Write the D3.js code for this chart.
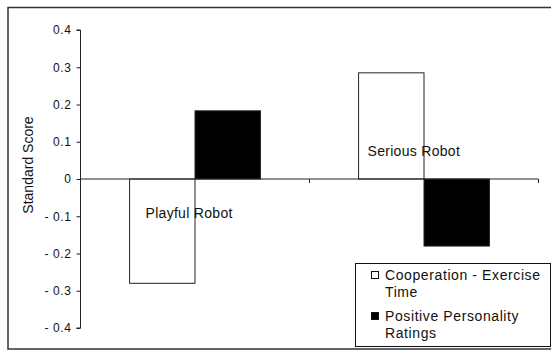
<!DOCTYPE html>
<html>
<head>
<meta charset="utf-8">
<script src="https://cdn.jsdelivr.net/npm/d3@7"></script>
<style>
  html, body { margin: 0; padding: 0; background: #fff; }
  svg { display: block; font-family: "Liberation Sans", Arial, sans-serif; }
</style>
</head>
<body>
<svg id="chart" width="551" height="351"></svg>
<script>
// Standard scores per robot personality condition
const categories = ["Playful Robot", "Serious Robot"];
const seriesNames = ["Cooperation - Exercise Time", "Positive Personality Ratings"];
const cooperationExerciseTime = [-0.28, 0.285];
const positivePersonalityRatings = [0.183, -0.18];
const yTicks = [0.4, 0.3, 0.2, 0.1, 0, -0.1, -0.2, -0.3, -0.4];
const legendLines = [["Cooperation - Exercise", "Time"], ["Positive Personality", "Ratings"]];

const seriesValues = [cooperationExerciseTime, positivePersonalityRatings];
const seriesFill = ["#ffffff", "#000000"];

const svg = d3.select("#chart");

// outer chart frame (right side runs off the canvas)
svg.append("rect")
  .attr("x", 8).attr("y", 7.5)
  .attr("width", 560).attr("height", 341.5)
  .attr("fill", "none").attr("stroke", "#333").attr("stroke-width", 1.5);

const plot = { left: 80.5, right: 538.5, top: 30, bottom: 328 };

const y = d3.scaleLinear().domain([-0.4, 0.4]).range([plot.bottom, plot.top]);
const x0 = d3.scaleBand().domain(categories)
  .range([plot.left, plot.right]).paddingInner(0.4286).paddingOuter(0.2143);
const x1 = d3.scaleBand().domain(d3.range(seriesNames.length))
  .range([0, x0.bandwidth()]);

// bars
const groups = svg.append("g").selectAll("g")
  .data(categories).join("g")
  .attr("transform", d => `translate(${x0(d)},0)`);

groups.selectAll("rect")
  .data((d, i) => seriesValues.map((vals, s) => ({ s, v: vals[i] })))
  .join("rect")
  .attr("x", d => x1(d.s))
  .attr("width", x1.bandwidth())
  .attr("y", d => y(Math.max(0, d.v)))
  .attr("height", d => Math.abs(y(d.v) - y(0)))
  .attr("fill", d => seriesFill[d.s])
  .attr("stroke", "#222").attr("stroke-width", 1);

// y axis
const fmt = v => v < 0 ? "- " + d3.format(".1f")(-v) : (v === 0 ? "0" : d3.format(".1f")(v));
const yAxis = svg.append("g")
  .attr("transform", `translate(${plot.left},0)`)
  .call(d3.axisLeft(y).tickValues(yTicks).tickFormat(fmt).tickSize(4).tickPadding(5));
yAxis.select(".domain").attr("stroke", "#222").attr("d", `M-4,${y(0.4)}H0V${y(-0.4)}H-4`);
yAxis.selectAll(".tick line").attr("stroke", "#222");
yAxis.selectAll(".tick text")
  .attr("font-size", 12).attr("letter-spacing", 0.6)
  .attr("font-family", "Liberation Sans, Arial, sans-serif").attr("fill", "#111");

// x axis along zero, with ticks at band boundaries
const xAxisG = svg.append("g").attr("transform", `translate(0,${y(0)})`);
xAxisG.append("line")
  .attr("x1", plot.left).attr("x2", plot.right)
  .attr("stroke", "#222").attr("stroke-width", 1);
xAxisG.selectAll(".xt")
  .data(categories).join("line")
  .attr("class", "xt")
  .attr("x1", d => x0(d) - x0.step() * x0.paddingOuter() + x0.step())
  .attr("x2", d => x0(d) - x0.step() * x0.paddingOuter() + x0.step())
  .attr("y1", 0).attr("y2", 4)
  .attr("stroke", "#222");

// y axis title
svg.append("text")
  .attr("transform", `translate(33,${(plot.top + plot.bottom) / 2 - 14}) rotate(-90)`)
  .attr("text-anchor", "middle")
  .attr("font-size", 14).attr("fill", "#111")
  .text("Standard Score");

// category labels inside the plot
const catLabelPos = [
  { dx: 65, v: -0.105 },
  { dx: 58, v: 0.062 }
];
svg.append("g").selectAll("text")
  .data(categories).join("text")
  .attr("x", (d, i) => x0(d) - x0.step() * x0.paddingOuter() + catLabelPos[i].dx)
  .attr("y", (d, i) => y(catLabelPos[i].v))
  .attr("font-size", 14).attr("letter-spacing", 0.3).attr("fill", "#111")
  .text(d => d);

// legend
const legend = svg.append("g");
legend.append("rect")
  .attr("x", 355.5).attr("y", 263.5).attr("width", 195).attr("height", 83)
  .attr("fill", "#fff").attr("stroke", "#111").attr("stroke-width", 1);
const rowTop = [280, 321];
legendLines.forEach((lines, i) => {
  legend.append("rect")
    .attr("x", 371.5).attr("y", rowTop[i] - 8.5).attr("width", 7).attr("height", 7)
    .attr("fill", seriesFill[i]).attr("stroke", "#111").attr("stroke-width", 1);
  legend.append("text")
    .attr("x", 385).attr("y", rowTop[i])
    .attr("font-size", 14).attr("letter-spacing", 0.6).attr("fill", "#111")
    .selectAll("tspan").data(lines).join("tspan")
    .attr("x", 385).attr("dy", (d, j) => j === 0 ? 0 : 16.5)
    .text(d => d);
});
</script>
</body>
</html>
